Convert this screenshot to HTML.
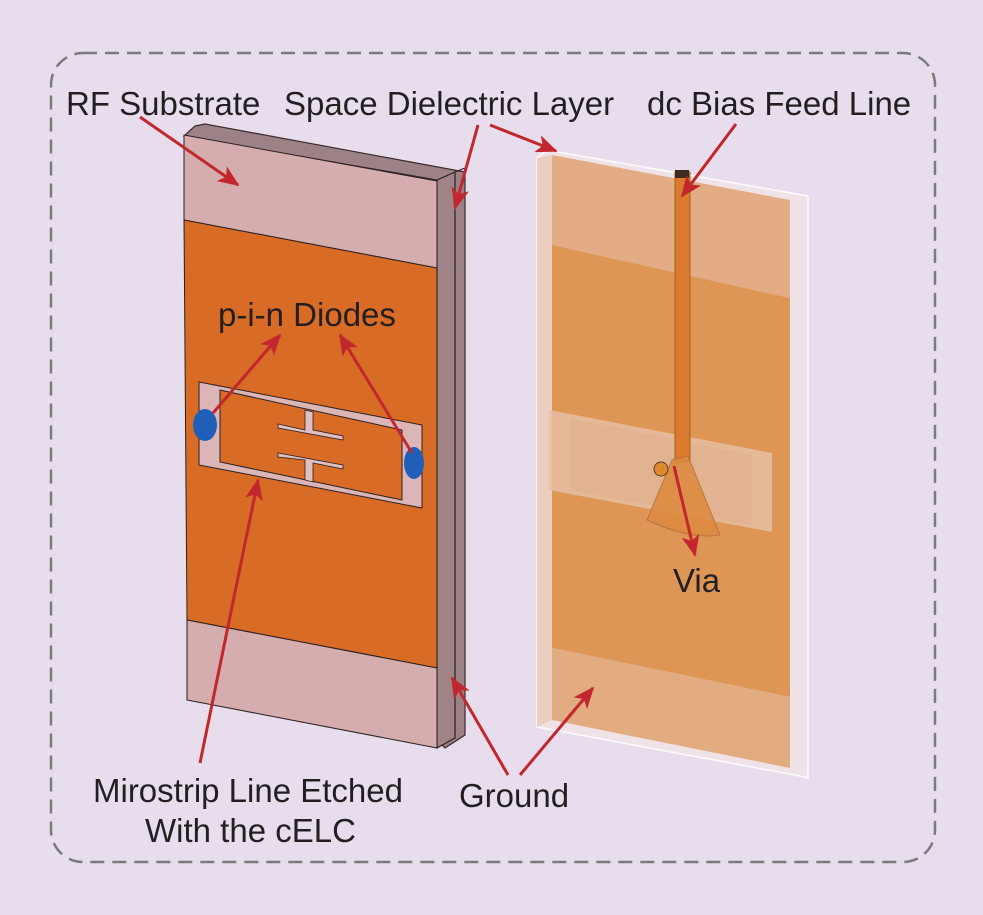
<!DOCTYPE html>
<html><head><meta charset="utf-8"><style>
html,body{margin:0;padding:0;background:#e8dded;}
svg{display:block}
text{font-family:"Liberation Sans",Arial,sans-serif;fill:#231f20;font-size:33px}
</style></head><body>
<svg width="983" height="915" viewBox="0 0 983 915" xmlns="http://www.w3.org/2000/svg">
<defs>
<marker id="a" viewBox="0 0 12 10" refX="11" refY="5" markerWidth="22" markerHeight="18" orient="auto" markerUnits="userSpaceOnUse"><path d="M0,0 L12,5 L0,10 L3,5 z" fill="#c1272d"/></marker>
</defs>
<rect width="983" height="915" fill="#e8dded"/>
<rect x="51" y="53" width="884" height="809" rx="32" fill="none" stroke="#7a7a7a" stroke-width="2.5" stroke-dasharray="14 8"/>

<!-- Left board -->
<polygon points="195,126 205,124 465,172 465,735 445,748 437,740 437,180 184,136" fill="#9c8286" stroke="#3a2a2a" stroke-width="1.2"/>
<polygon points="437,180 455,172 455,738 437,748" fill="#a08387" stroke="#2a2020" stroke-width="1.2"/>
<line x1="455" y1="172" x2="465" y2="168" stroke="#2a2020"/>
<polygon points="184,135 437,181 437,268 184,220" fill="#d6adaf" stroke="#2a2020" stroke-width="1"/>
<polygon points="184,220 437,268 437,668 187,620" fill="#d86b26" stroke="#2a2020" stroke-width="1"/>
<polygon points="187,620 437,668 437,748 187,700" fill="#d6adaf" stroke="#2a2020" stroke-width="1"/>
<polygon points="199,382 422,425 422,508 199,465" fill="#dcb6b6" stroke="#2a2020" stroke-width="1"/>
<polygon points="220,390 402,430 402,500 220,462" fill="#d86b26" stroke="#2a2020" stroke-width="1"/>
<polygon points="305,410 313,412 313,430 343,436 343,440 278,428 278,424 305,430" fill="#e0c0c0" stroke="#2a2020" stroke-width="0.8"/>
<polygon points="278,453 343,465 343,469 313,463 313,482 305,480 305,460 278,457" fill="#e0c0c0" stroke="#2a2020" stroke-width="0.8"/>
<ellipse cx="205" cy="425" rx="12" ry="16" fill="#1f5fb8"/>
<ellipse cx="414" cy="463" rx="10" ry="16" fill="#1f5fb8"/>

<!-- Right board -->
<polygon points="537,158 547,150 808,196 808,778 800,776 537,727" fill="#f0e4e8" stroke="#fff" stroke-width="1.5" opacity="0.9"/>
<polygon points="552,155 790,200 790,298 552,245" fill="#e3ac84"/>
<polygon points="552,245 790,298 790,697 552,648" fill="#de9656"/>
<polygon points="552,648 790,697 790,768 552,720" fill="#e2ab80"/>
<polygon points="537,158 552,155 552,720 537,727" fill="#e8c8b4" opacity="0.8"/>
<polygon points="549,410 772,453 772,532 549,490" fill="#e6c0a2" opacity="0.85"/>
<polygon points="570,418 752,455 752,525 570,490" fill="#e0b290" opacity="0.9"/>
<rect x="675" y="172" width="15" height="290" fill="#d97a2c" stroke="#a8601e" stroke-width="1"/>
<rect x="675" y="170" width="14" height="8" fill="#3a2a20"/>
<path d="M672,460 L688,456 L720,535 Q690,540 647,520 Z" fill="#dd8a40" stroke="#b87040" stroke-width="1" opacity="0.9"/>
<ellipse cx="661" cy="469" rx="7" ry="7" fill="#e08a30" stroke="#5a3a20"/>

<g stroke="#c1272d" stroke-width="3" fill="none">
<line x1="140" y1="117" x2="238" y2="185" marker-end="url(#a)"/>
<line x1="478" y1="125" x2="455" y2="208" marker-end="url(#a)"/>
<line x1="490" y1="125" x2="556" y2="151" marker-end="url(#a)"/>
<line x1="736" y1="124" x2="682" y2="196" marker-end="url(#a)"/>
<line x1="213" y1="413" x2="280" y2="335" marker-end="url(#a)"/>
<line x1="412" y1="453" x2="340" y2="335" marker-end="url(#a)"/>
<line x1="200" y1="763" x2="258" y2="480" marker-end="url(#a)"/>
<line x1="508" y1="775" x2="452" y2="678" marker-end="url(#a)"/>
<line x1="520" y1="775" x2="593" y2="688" marker-end="url(#a)"/>
<line x1="674" y1="466" x2="695" y2="555" marker-end="url(#a)"/>
</g>

<text x="66" y="115">RF Substrate</text>
<text x="284" y="115">Space Dielectric Layer</text>
<text x="647" y="115">dc Bias Feed Line</text>
<text x="218" y="326">p-i-n Diodes</text>
<text x="673" y="592">Via</text>
<text x="93" y="802">Mirostrip Line Etched</text>
<text x="145" y="842">With the cELC</text>
<text x="459" y="807">Ground</text>
</svg>
</body></html>
